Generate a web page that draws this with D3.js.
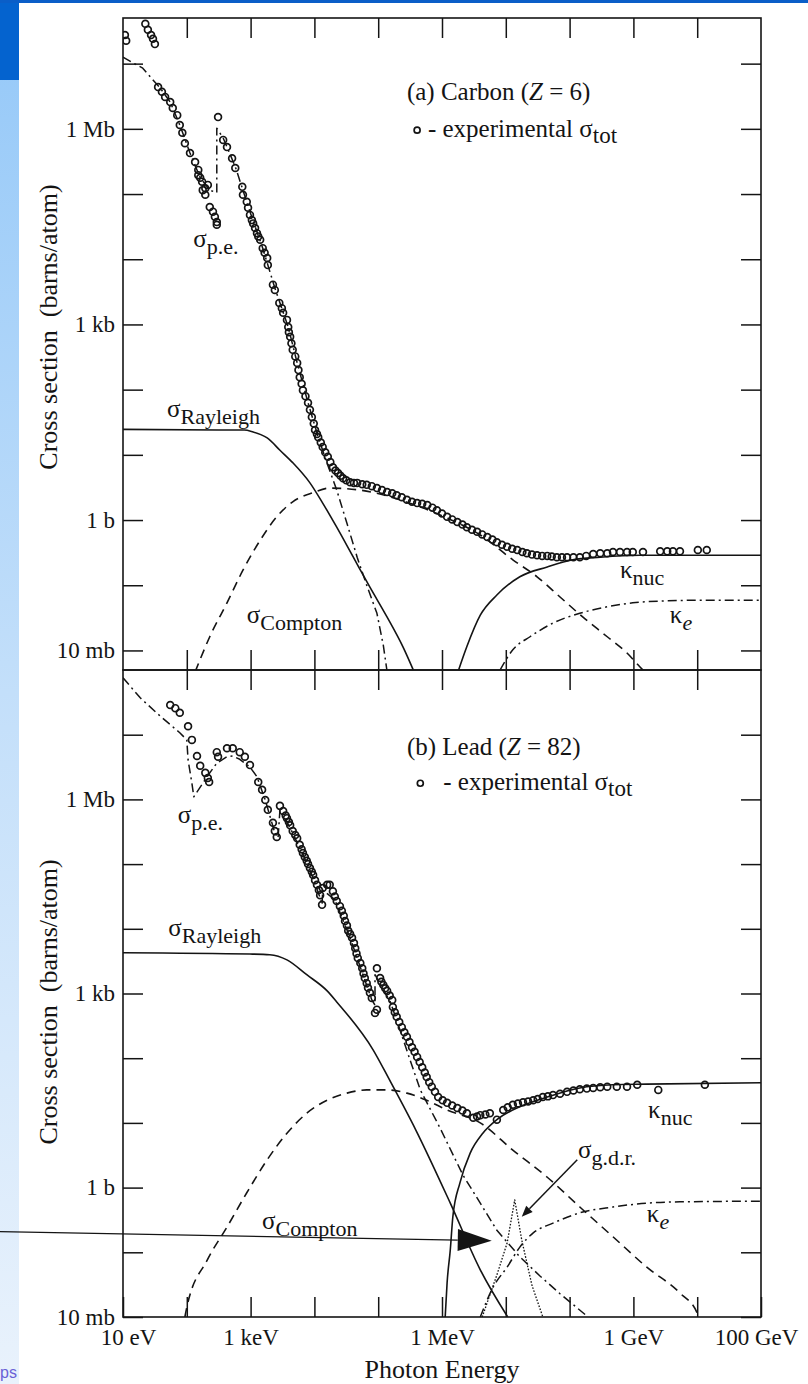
<!DOCTYPE html>
<html>
<head>
<meta charset="utf-8">
<script src="https://cdn.jsdelivr.net/npm/d3@7"></script>
<style>
  body { margin: 0; background: #fff; }
  svg text { white-space: pre; }
</style>
</head>
<body>
<svg id="slide" width="808" height="1384"></svg>
<script>
// Photon cross sections of carbon and lead.
// Every pair is [log10(E / eV), log10(sigma / barn)].

const energyTicks = [1, 2, 3, 4, 5, 6, 7, 8, 9, 10, 11];
const energyTickLabels = { 1: "10 eV", 3: "1 keV", 6: "1 MeV", 9: "1 GeV", 11: "100 GeV" };
const sigmaTickLabels = { "-2": "10 mb", 0: "1 b", 3: "1 kb", 6: "1 Mb" };

// ---------- (a) Carbon ----------
const carbonTotal = [
  [1.03,7.44],[1.05,7.35],
  [1.35,7.61],[1.39,7.52],[1.44,7.44],[1.47,7.38],[1.50,7.30],
  [1.55,6.64],[1.61,6.57],[1.66,6.49],[1.74,6.41],[1.78,6.32],[1.85,6.21],[1.89,6.06],[1.93,5.94],
  [1.97,5.78],[2.05,5.63],[2.13,5.49],[2.18,5.37],[2.18,5.29],[2.21,5.25],[2.24,5.19],[2.25,5.06],
  [2.29,5.09],[2.29,4.99],[2.33,5.14],[2.36,4.80],[2.41,4.73],[2.44,4.65],[2.47,4.57],[2.47,4.53],
  [2.49,6.18],
  [2.57,5.83],[2.63,5.72],[2.71,5.55],[2.76,5.40],[2.87,5.11],[2.88,4.99],[2.94,4.88],[2.96,4.79],
  [2.99,4.68],[3.02,4.60],[3.04,4.55],[3.07,4.48],[3.10,4.40],[3.12,4.35],[3.15,4.30],[3.19,4.17],
  [3.22,4.10],[3.26,4.02],[3.27,3.91],[3.35,3.61],[3.38,3.53],[3.45,3.33],[3.49,3.25],[3.51,3.18],
  [3.57,3.07],[3.59,2.96],[3.60,2.88],[3.62,2.81],[3.64,2.71],[3.66,2.61],[3.70,2.51],[3.73,2.41],
  [3.75,2.30],[3.77,2.19],[3.80,2.09],[3.82,1.99],[3.86,1.90],[3.90,1.80],[3.93,1.69],[3.96,1.58],
  [3.99,1.48],[4.01,1.38],[4.04,1.32],[4.06,1.27],[4.10,1.19],[4.13,1.12],[4.17,1.04],[4.21,0.97],
  [4.25,0.89],[4.29,0.81],[4.33,0.76],[4.37,0.72],[4.41,0.68],[4.45,0.64],[4.50,0.61],[4.56,0.58],
  [4.62,0.57],[4.67,0.57],[4.75,0.55],[4.82,0.54],[4.90,0.52],[4.98,0.49],[5.06,0.46],[5.14,0.43],
  [5.22,0.41],[5.29,0.38],[5.37,0.35],[5.45,0.31],[5.53,0.28],[5.61,0.26],[5.69,0.25],[5.77,0.23],
  [5.85,0.19],[5.92,0.15],[6.00,0.10],[6.08,0.05],[6.16,0.01],[6.24,-0.03],[6.32,-0.07],[6.39,-0.11],
  [6.47,-0.15],[6.55,-0.18],[6.63,-0.22],[6.71,-0.26],[6.79,-0.30],[6.86,-0.34],[6.94,-0.38],[7.02,-0.41],
  [7.10,-0.44],[7.18,-0.46],[7.26,-0.49],[7.33,-0.51],[7.41,-0.53],[7.49,-0.54],[7.57,-0.55],[7.65,-0.55],
  [7.72,-0.56],[7.80,-0.57],[7.88,-0.57],[7.96,-0.57],[8.06,-0.57],[8.16,-0.57],[8.26,-0.55],[8.37,-0.52],
  [8.48,-0.51],[8.59,-0.51],[8.68,-0.49],[8.79,-0.49],[8.90,-0.49],[8.99,-0.49],[9.15,-0.49],
  [9.42,-0.48],[9.53,-0.48],[9.62,-0.48],[9.73,-0.48],[10.01,-0.46],[10.15,-0.46]
];
const carbonPhotoelectric = [
  [1.00,7.10],[1.16,7.01],[1.31,6.93],[1.47,6.75],[1.58,6.63],[1.74,6.41],[1.89,6.06],[2.05,5.63],
  [2.21,5.25],[2.36,5.06],[2.47,5.02],[2.47,6.01],[2.57,5.86],[2.76,5.42],[2.99,4.73],[3.19,4.17],
  [3.38,3.56],[3.59,2.96],[3.73,2.41],[3.90,1.80],[4.06,1.27],[4.21,0.84],[4.35,0.46],[4.51,-0.05],
  [4.67,-0.57],[4.82,-1.00],[4.98,-1.43],[5.08,-1.92],[5.14,-2.33]
];
const carbonRayleigh = [
  [1.00,1.39],[2.50,1.38],[2.90,1.38],[3.04,1.35],[3.16,1.31],[3.26,1.26],[3.46,1.07],[3.66,0.88],
  [3.93,0.57],[4.13,0.26],[4.35,-0.11],[4.61,-0.57],[4.87,-1.03],[5.14,-1.49],[5.39,-1.95],[5.55,-2.30]
];
const carbonCompton = [
  [2.13,-2.33],[2.36,-1.79],[2.63,-1.27],[2.88,-0.77],[3.15,-0.31],[3.41,0.05],[3.66,0.28],[3.98,0.42],
  [4.24,0.49],[4.71,0.46],[5.34,0.31],[6.08,0.03],[6.60,-0.23],[7.11,-0.61],[7.49,-0.87],[7.85,-1.18],
  [8.21,-1.49],[8.59,-1.79],[8.90,-2.04],[9.10,-2.25],[9.18,-2.33]
];
const carbonKappaNuc = [
  [6.25,-2.33],[6.39,-1.94],[6.60,-1.46],[6.86,-1.15],[7.22,-0.87],[7.65,-0.72],[8.05,-0.61],
  [8.48,-0.57],[9.10,-0.54],[11.00,-0.54]
];
const carbonKappaE = [
  [6.91,-2.30],[7.11,-1.99],[7.38,-1.79],[7.74,-1.58],[8.16,-1.43],[8.59,-1.33],[8.99,-1.27],
  [9.53,-1.24],[10.04,-1.23],[11.00,-1.23]
];

// ---------- (b) Lead ----------
const leadTotal = [
  [1.74,7.46],[1.82,7.41],[1.89,7.34],[2.02,7.13],[2.08,6.92],[2.16,6.67],[2.21,6.52],[2.29,6.41],
  [2.33,6.33],[2.35,6.27],
  [2.47,6.73],[2.49,6.66],[2.63,6.79],[2.72,6.79],[2.83,6.73],[2.91,6.66],[2.99,6.53],[3.12,6.27],
  [3.18,6.15],[3.23,5.99],[3.27,5.84],[3.35,5.64],[3.38,5.51],[3.41,5.42],
  [3.46,5.90],[3.51,5.82],[3.55,5.75],[3.57,5.71],[3.60,5.65],[3.62,5.60],[3.66,5.51],[3.70,5.45],
  [3.73,5.40],[3.77,5.30],[3.80,5.23],[3.82,5.17],[3.85,5.11],[3.88,5.05],[3.90,5.00],[3.93,4.94],
  [3.96,4.88],[3.98,4.83],[4.01,4.75],[4.04,4.68],[4.07,4.60],[4.09,4.52],[4.12,4.37],
  [4.13,4.63],[4.20,4.68],[4.24,4.68],[4.29,4.58],[4.32,4.50],[4.35,4.43],[4.40,4.35],[4.43,4.28],
  [4.46,4.20],[4.48,4.12],[4.51,4.05],[4.53,3.97],[4.56,3.92],[4.59,3.86],[4.62,3.78],[4.64,3.70],
  [4.66,3.62],[4.68,3.55],[4.72,3.47],[4.75,3.39],[4.77,3.31],[4.79,3.24],[4.82,3.16],[4.84,3.09],
  [4.87,3.01],[4.90,2.93],[4.95,2.70],[4.98,2.75],
  [4.98,3.39],[5.03,3.24],[5.05,3.18],[5.08,3.13],[5.11,3.08],[5.14,3.04],[5.18,2.97],[5.22,2.90],
  [5.23,2.79],[5.26,2.71],[5.29,2.64],[5.33,2.56],[5.37,2.48],[5.41,2.40],[5.45,2.33],[5.49,2.25],
  [5.53,2.17],[5.57,2.10],[5.61,2.02],[5.65,1.94],[5.69,1.86],[5.73,1.78],[5.76,1.71],[5.80,1.63],
  [5.84,1.56],[5.89,1.48],[5.94,1.40],[6.01,1.35],[6.08,1.31],[6.16,1.27],[6.24,1.23],[6.32,1.19],
  [6.39,1.15],[6.49,1.08],[6.55,1.10],[6.60,1.12],[6.68,1.13],[6.75,1.15],[6.86,1.05],[6.96,1.20],
  [7.03,1.24],[7.11,1.28],[7.19,1.30],[7.27,1.32],[7.35,1.33],[7.43,1.35],[7.50,1.37],[7.58,1.40],
  [7.66,1.41],[7.74,1.43],[7.85,1.45],[7.96,1.48],[8.06,1.50],[8.16,1.52],[8.27,1.53],[8.37,1.54],
  [8.48,1.55],[8.59,1.56],[8.74,1.56],[8.90,1.56],[9.06,1.59],[9.39,1.51],[10.12,1.59]
];
const leadPhotoelectric = [
  [1.00,7.88],[1.27,7.57],[1.58,7.29],[1.89,7.03],[2.00,6.92],[2.02,6.61],[2.08,6.25],[2.11,6.04],
  [2.25,6.25],[2.36,6.41],[2.47,6.56],[2.63,6.66],[2.72,6.67],[2.83,6.62],[2.99,6.50],[3.10,6.35],
  [3.23,5.99],[3.38,5.48],[3.43,5.40],[3.46,5.84],[3.62,5.56],[3.77,5.25],[3.93,4.91],[4.09,4.48],
  [4.12,4.37],[4.13,4.60],[4.32,4.45],[4.56,3.86],[4.79,3.21],[4.90,2.90],[4.95,2.82],[4.95,3.29],
  [5.19,2.87],[5.34,2.44],[5.50,1.97],[5.66,1.51],[5.97,0.92],[6.33,0.19],[6.60,-0.24],[6.86,-0.66],
  [7.22,-1.07],[7.54,-1.37],[7.85,-1.64],[8.29,-2.00]
];
const leadRayleigh = [
  [1.00,3.63],[2.99,3.61],[3.30,3.60],[3.57,3.52],[3.88,3.29],[4.20,3.04],[4.35,2.87],[4.92,2.13],
  [5.18,1.66],[5.59,0.89],[6.13,-0.24],[6.60,-1.27],[7.03,-2.00]
];
const leadCompton = [
  [1.97,-2.00],[2.00,-1.85],[2.32,-1.12],[2.63,-0.61],[2.94,-0.08],[3.26,0.43],[3.57,0.84],[3.88,1.15],
  [4.20,1.35],[4.51,1.46],[4.82,1.51],[5.14,1.51],[5.45,1.46],[5.76,1.35],[6.08,1.20],[6.60,1.00],
  [7.11,0.58],[7.65,0.16],[8.16,-0.30],[8.68,-0.76],[9.21,-1.23],[9.73,-1.63],[10.00,-1.94],[10.01,-2.00]
];
const leadKappaNuc = [
  [6.05,-2.00],[6.08,-1.47],[6.13,-0.96],[6.17,-0.45],[6.28,0.07],[6.44,0.53],[6.64,0.84],[6.86,1.05],
  [7.22,1.25],[7.65,1.40],[8.16,1.54],[8.68,1.59],[9.21,1.60],[11.00,1.62]
];
const leadKappaE = [
  [6.60,-2.00],[6.80,-1.54],[7.02,-1.23],[7.22,-0.92],[7.43,-0.70],[7.74,-0.55],[8.16,-0.39],
  [8.68,-0.30],[9.21,-0.24],[9.73,-0.22],[11.00,-0.21]
];
const leadGiantDipole = [
  [6.63,-2.00],[6.86,-1.35],[7.02,-0.86],[7.14,-0.19],[7.25,-0.81],[7.41,-1.51],[7.58,-2.00]
];

// ---------- layout & styling ----------
const SERIF = "'Liberation Serif', 'Times New Roman', serif";
const INK = "#141414";
const W = 808, H = 1384;
const X0 = 123, X1 = 761;

const svg = d3.select("#slide");
const defs = svg.append("defs");

// slide frame: pale blue side strip, dark blue bar and corner block
const grad = defs.append("linearGradient").attr("id", "sideGrad")
  .attr("x1", 0).attr("y1", 0).attr("x2", 0).attr("y2", 1);
grad.append("stop").attr("offset", "0").attr("stop-color", "#94c8f8");
grad.append("stop").attr("offset", "0.5").attr("stop-color", "#c3dffa");
grad.append("stop").attr("offset", "1").attr("stop-color", "#e9f2fc");
svg.append("rect").attr("width", W).attr("height", H).attr("fill", "url(#sideGrad)");
svg.append("rect").attr("width", 19).attr("height", 80).attr("fill", "#0463cf");
svg.append("rect").attr("width", W).attr("height", 3).attr("fill", "#0a5ec8");
svg.append("rect").attr("x", 19).attr("y", 3).attr("width", W - 19).attr("height", H - 3).attr("fill", "#fff");
svg.append("text").attr("x", 0).attr("y", 1378)
  .attr("font-family", "'Liberation Sans', Arial, sans-serif").attr("font-size", 16)
  .attr("fill", "#6a62d6").text("ps");

const x = d3.scaleLinear().domain([1, 11]).range([X0, X1]);

const styles = {
  solid:   { dash: null,            width: 1.6 },
  dashed:  { dash: "9,6",           width: 1.6 },
  dashdot: { dash: "9,4,2,4",       width: 1.5 },
  dotted:  { dash: "1.6,1.6",       width: 1.3 }
};

function drawPanel(cfg) {
  const y = d3.scaleLinear().domain(cfg.sigmaDomain).range([cfg.bottom, cfg.top]);
  const g = svg.append("g");
  const clipId = "clip-" + cfg.id;
  defs.append("clipPath").attr("id", clipId).append("rect")
    .attr("x", X0).attr("y", cfg.top).attr("width", X1 - X0).attr("height", cfg.bottom - cfg.top);
  const plot = g.append("g").attr("clip-path", `url(#${clipId})`);

  cfg.curves.forEach(c => {
    const gen = d3.line().x(d => x(d[0])).y(d => y(d[1])).curve(c.curve || d3.curveLinear);
    const st = styles[c.style];
    plot.append("path").datum(c.data).attr("d", gen)
      .attr("fill", "none").attr("stroke", INK).attr("stroke-width", st.width)
      .attr("stroke-dasharray", st.dash).attr("stroke-linejoin", "round");
  });

  plot.append("g").selectAll("circle").data(cfg.total).join("circle")
    .attr("cx", d => x(d[0])).attr("cy", d => y(d[1])).attr("r", 3.4)
    .attr("fill", "none").attr("stroke", INK).attr("stroke-width", 1.7);

  // axes with inward ticks on all four sides
  const fmtY = d => sigmaTickLabels[d] ?? "";
  const styleAxis = a => {
    a.select(".domain").remove();
    a.attr("font-family", SERIF).attr("font-size", 23).attr("color", INK);
    a.selectAll(".tick line").attr("stroke-width", 1.5);
  };
  g.append("g").attr("transform", `translate(${X0},0)`)
    .call(d3.axisLeft(y).tickValues(cfg.sigmaTicks).tickSize(-20).tickSizeOuter(0).tickPadding(8).tickFormat(fmtY))
    .call(styleAxis);
  g.append("g").attr("transform", `translate(${X1},0)`)
    .call(d3.axisRight(y).tickValues(cfg.sigmaTicks).tickSize(-20).tickSizeOuter(0).tickFormat(""))
    .call(styleAxis);
  g.append("g").attr("transform", `translate(0,${cfg.top})`)
    .call(d3.axisTop(x).tickValues(energyTicks.slice(1, -1)).tickSize(-20).tickSizeOuter(0).tickFormat(""))
    .call(styleAxis);
  const bottomAxis = g.append("g").attr("transform", `translate(0,${cfg.bottom})`)
    .call(d3.axisBottom(x).tickValues(cfg.showEnergyLabels ? energyTicks : energyTicks.slice(1, -1))
      .tickSize(-20).tickSizeOuter(0).tickPadding(12)
      .tickFormat(d => cfg.showEnergyLabels ? (energyTickLabels[d] ?? "") : ""))
    .call(styleAxis);
  if (cfg.showEnergyLabels) {
    bottomAxis.selectAll(".tick text").attr("dx", d => d === 1 ? 5 : d === 11 ? -5 : 0);
  }

  g.append("rect").attr("x", X0).attr("y", cfg.top).attr("width", X1 - X0).attr("height", cfg.bottom - cfg.top)
    .attr("fill", "none").attr("stroke", INK).attr("stroke-width", 1.6);

  // y-axis title
  g.append("text")
    .attr("transform", `translate(57,${y(cfg.titleAt)}) rotate(-90)`)
    .attr("text-anchor", "middle").attr("font-family", SERIF).attr("font-size", 26).attr("fill", INK)
    .text("Cross section  (barns/atom)");

  // curve labels
  cfg.labels.forEach(l => {
    const t = g.append("text").attr("x", x(l.at[0])).attr("y", y(l.at[1]))
      .attr("font-family", SERIF).attr("font-size", 25).attr("fill", INK);
    t.append("tspan").text(l.main);
    t.append("tspan").attr("dy", 7).attr("font-size", 22)
      .attr("font-style", l.italicSub ? "italic" : null).text(l.sub);
  });

  // panel heading and legend entry
  const head = g.append("text").attr("x", x(cfg.heading.at[0])).attr("y", y(cfg.heading.at[1]))
    .attr("font-family", SERIF).attr("font-size", 25).attr("fill", INK);
  head.append("tspan").text(cfg.heading.text + " (");
  head.append("tspan").attr("font-style", "italic").text("Z");
  head.append("tspan").text(" = " + cfg.heading.z + ")");

  g.append("circle").attr("cx", x(cfg.legend.marker[0])).attr("cy", y(cfg.legend.marker[1])).attr("r", 3)
    .attr("fill", "none").attr("stroke", INK).attr("stroke-width", 1.7);
  const lt = g.append("text").attr("x", x(cfg.legend.text[0])).attr("y", y(cfg.legend.text[1]))
    .attr("font-family", SERIF).attr("font-size", 25).attr("fill", INK);
  lt.append("tspan").text("- experimental σ");
  lt.append("tspan").attr("dy", 6).attr("font-size", 23).text("tot");

  return y;
}

drawPanel({
  id: "carbon", top: 18, bottom: 670, sigmaDomain: [-2.3, 7.7],
  sigmaTicks: [-2, -1, 0, 1, 2, 3, 4, 5, 6, 7], titleAt: 2.96, showEnergyLabels: false,
  total: carbonTotal,
  curves: [
    { data: carbonRayleigh, style: "solid", curve: d3.curveMonotoneX },
    { data: carbonCompton, style: "dashed", curve: d3.curveMonotoneX },
    { data: carbonPhotoelectric, style: "dashdot" },
    { data: carbonKappaNuc, style: "solid", curve: d3.curveMonotoneX },
    { data: carbonKappaE, style: "dashdot", curve: d3.curveMonotoneX }
  ],
  labels: [
    { at: [2.10, 4.19], main: "σ", sub: "p.e." },
    { at: [1.69, 1.58], main: "σ", sub: "Rayleigh" },
    { at: [2.94, -1.58], main: "σ", sub: "Compton" },
    { at: [8.79, -0.89], main: "κ", sub: "nuc" },
    { at: [9.57, -1.58], main: "κ", sub: "e", italicSub: true }
  ],
  heading: { at: [5.45, 6.44], text: "(a) Carbon", z: "6" },
  legend: { marker: [5.61, 5.98], text: [5.78, 5.87] }
});

const yLead = drawPanel({
  id: "lead", top: 670, bottom: 1317, sigmaDomain: [-2, 8],
  sigmaTicks: [-2, -1, 0, 1, 2, 3, 4, 5, 6, 7], titleAt: 2.87, showEnergyLabels: true,
  total: leadTotal,
  curves: [
    { data: leadRayleigh, style: "solid", curve: d3.curveMonotoneX },
    { data: leadCompton, style: "dashed", curve: d3.curveMonotoneX },
    { data: leadPhotoelectric, style: "dashdot" },
    { data: leadKappaNuc, style: "solid", curve: d3.curveMonotoneX },
    { data: leadKappaE, style: "dashdot", curve: d3.curveMonotoneX },
    { data: leadGiantDipole, style: "dotted" }
  ],
  labels: [
    { at: [1.86, 5.64], main: "σ", sub: "p.e." },
    { at: [1.71, 3.89], main: "σ", sub: "Rayleigh" },
    { at: [3.18, -0.64], main: "σ", sub: "Compton" },
    { at: [9.23, 1.08], main: "κ", sub: "nuc" },
    { at: [8.13, 0.46], main: "σ", sub: "g.d.r." },
    { at: [9.21, -0.53], main: "κ", sub: "e", italicSub: true }
  ],
  heading: { at: [5.45, 6.69], text: "(b) Lead", z: "82" },
  legend: { marker: [5.66, 6.25], text: [6.02, 6.15] }
});

// x-axis title
svg.append("text").attr("x", x(6)).attr("y", 1378).attr("text-anchor", "middle")
  .attr("font-family", SERIF).attr("font-size", 26).attr("fill", INK).text("Photon Energy");

// arrows: [log10 E, log10 sigma] in the lead panel
function arrow(from, to, headLen, headHalf, width) {
  const p0 = [x(from[0]), yLead(from[1])], p1 = [x(to[0]), yLead(to[1])];
  const dx = p1[0] - p0[0], dy = p1[1] - p0[1], L = Math.hypot(dx, dy);
  const ux = dx / L, uy = dy / L;
  const base = [p1[0] - ux * headLen, p1[1] - uy * headLen];
  svg.append("line").attr("x1", p0[0]).attr("y1", p0[1]).attr("x2", base[0]).attr("y2", base[1])
    .attr("stroke", INK).attr("stroke-width", width);
  svg.append("polygon").attr("fill", INK).attr("points", [
    p1, [base[0] - uy * headHalf, base[1] + ux * headHalf], [base[0] + uy * headHalf, base[1] - ux * headHalf]
  ].map(p => p.join(",")).join(" "));
}
const gdrPointer = { from: [8.12, 0.43], to: [7.25, -0.45] };
arrow(gdrPointer.from, gdrPointer.to, 11, 4.5, 1.5);
const slidePointer = { from: [-0.93, -0.68], to: [6.78, -0.82] };
arrow(slidePointer.from, slidePointer.to, 34, 11, 1.3);
</script>
</body>
</html>
